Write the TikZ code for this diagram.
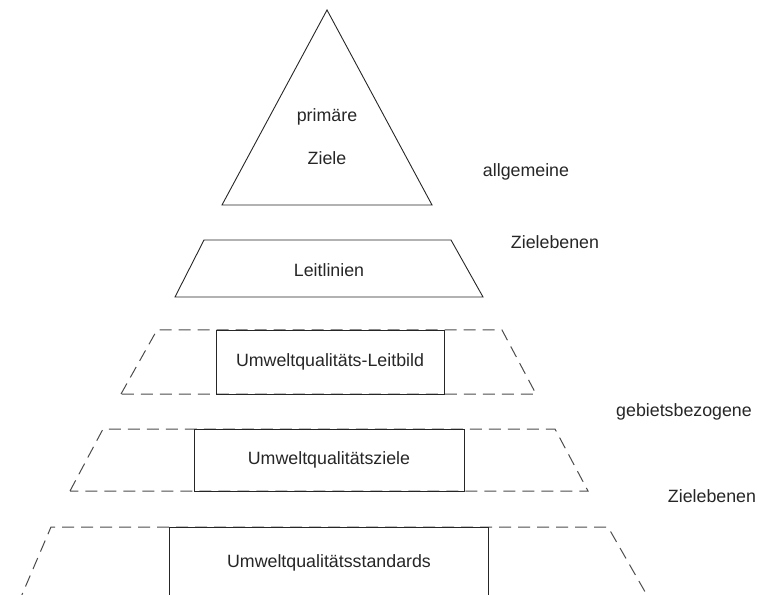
\documentclass[tikz,border=0pt]{standalone}
\usepackage{fontspec}
\setmainfont{Liberation Sans}
\tikzset{
  solidline/.style={line width=0.45pt, black!85},
  dashline/.style={line width=0.5pt, black!70, dash pattern=on 6pt off 3.5pt},
  lbl/.style={inner sep=0pt, text=black!85}
}
\begin{document}
\begin{tikzpicture}[x=0.5pt,y=0.5pt,font=\fontsize{8.9}{10.7}\selectfont]
\useasboundingbox (0,0) rectangle (758,594);
\clip (0,0) rectangle (758,594);

% top levels
\draw[solidline] (222,389) -- (327,584) -- (432,389) -- cycle;
\draw[solidline] (175,297) -- (204,354) -- (451,354) -- (483,297) -- cycle;

% dashed levels
\draw[dashline] (121,200) -- (157,264) -- (502,264) -- (536,200) -- cycle;
\draw[dashline] (70,103) -- (103,165) -- (555,165) -- (588,103) -- cycle;
\draw[dashline] (18,-10) -- (51,67) -- (608,67) -- (652,-10);

% boxes
\draw[solidline] (216,200) rectangle (444,264);
\draw[solidline] (194,103) rectangle (464,165);
\draw[solidline] (169,-10) -- (169,67) -- (488,67) -- (488,-10);

% texts
\node[lbl] (primaer) at (327,477) {primäre};
\node[lbl] (ziele) at (327,436) {Ziele};
\node[lbl] (leitlinien) at (329,324) {Leitlinien};
\node[lbl] (leitbild) at (330,232) {Umweltqualitäts-Leitbild};
\node[lbl] (uqziele) at (329,134) {Umweltqualitätsziele};
\node[lbl] (standards) at (329,31) {Umweltqualitätsstandards};

\node[lbl] (allg) at (526,422) {allgemeine};
\node[lbl] (zeb1) at (555,352) {Zielebenen};
\node[lbl] (gebiet) at (684,182) {gebietsbezogene};
\node[lbl] (zeb2) at (712,98) {Zielebenen};
\end{tikzpicture}
\end{document}
